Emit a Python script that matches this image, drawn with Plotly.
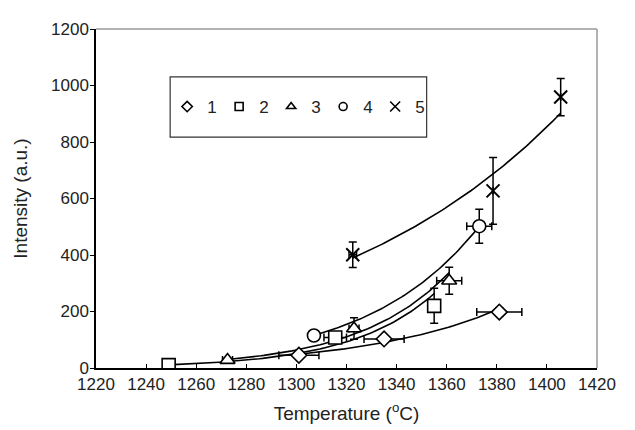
import numpy as np
import plotly.graph_objects as go

# ---- data ----
series_names = ["1", "2", "3", "4", "5"]
s1_x = [1301, 1335, 1381]
s1_y = [45, 103, 198]
s1_xerr = [8, 8, 9]
s1_yerr = [6, 8, 15]

s2_x = [1249, 1315.5, 1355]
s2_y = [10, 108, 220]
s2_xerr = [0, 4.5, 2]
s2_yerr = [0, 15, 62]

s3_x = [1272.5, 1323, 1361]
s3_y = [28, 140, 309]
s3_xerr = [2, 2, 5]
s3_yerr = [6, 38, 48]

s4_x = [1307, 1373]
s4_y = [115, 502]
s4_xerr = [2, 5]
s4_yerr = [8, 60]

s5_x = [1322.5, 1378.5, 1405.5]
s5_y = [401, 627, 959]
s5_xerr = [1.5, 0, 0]
s5_yerr = [45, 118, 66]

x_ticks = [1220, 1240, 1260, 1280, 1300, 1320, 1340, 1360, 1380, 1400, 1420]
y_ticks = [0, 200, 400, 600, 800, 1000, 1200]

series = [
    (s1_x, s1_y, s1_xerr, s1_yerr, "diamond", 12),
    (s2_x, s2_y, s2_xerr, s2_yerr, "square", 13),
    (s3_x, s3_y, s3_xerr, s3_yerr, "triangle-up", 13),
    (s4_x, s4_y, s4_xerr, s4_yerr, "circle", 13),
    (s5_x, s5_y, s5_xerr, s5_yerr, "x-thin", 13),
]

FONT = "Liberation Sans, Arial, Helvetica, sans-serif"
fig = go.Figure()

# exponential trendlines (least squares on log y) over each series' x range
for (xs, ys, _, _, _, _) in series:
    k, b = np.polyfit(np.array(xs, float), np.log(np.array(ys, float)), 1)
    xx = np.linspace(min(xs), max(xs), 80)
    fig.add_trace(go.Scatter(x=xx, y=np.exp(k * xx + b), mode="lines",
                             line=dict(color="black", width=1.6),
                             showlegend=False, hoverinfo="skip"))

# data points with error bars
for (xs, ys, xe, ye, sym, sz) in series:
    if sym == "x-thin":
        mk = dict(symbol=sym, size=sz, line=dict(color="black", width=2), color="black")
    else:
        mk = dict(symbol=sym, size=sz, color="white", line=dict(color="black", width=1.6))
    fig.add_trace(go.Scatter(
        x=xs, y=ys, mode="markers", marker=mk, showlegend=False,
        error_x=dict(type="data", array=xe, color="black", thickness=1.5, width=4),
        error_y=dict(type="data", array=ye, color="black", thickness=1.5, width=4),
    ))

# legend entries
for name, (_, _, _, _, sym, _) in zip(series_names, series):
    if sym == "x-thin":
        mk = dict(symbol=sym, size=10, line=dict(color="black", width=1.6), color="black")
    else:
        mk = dict(symbol=sym, size=8, color="white", line=dict(color="black", width=1.6))
    fig.add_trace(go.Scatter(x=[None], y=[None], mode="markers", marker=mk, name=name))

fig.update_layout(
    width=635, height=430,
    margin=dict(l=83, r=46, t=12, b=70),
    paper_bgcolor="white", plot_bgcolor="white",
    font=dict(family=FONT, size=16, color="#222"),
    showlegend=True,
    legend=dict(orientation="h", x=0.142, xanchor="left", y=0.770, yanchor="middle",
                bgcolor="rgba(0,0,0,0)", borderwidth=0, font=dict(size=17),
                entrywidth=7, itemwidth=30, tracegroupgap=0),
    shapes=[
        dict(type="rect", xref="paper", yref="paper", x0=0.148, x1=0.660, y0=0.681, y1=0.859,
             line=dict(color="#333", width=1.2)),
        dict(type="line", xref="paper", yref="paper", x0=0, x1=1, y0=1, y1=1,
             line=dict(color="#9a9a9a", width=1.5)),
        dict(type="line", xref="paper", yref="paper", x0=1, x1=1, y0=0, y1=1,
             line=dict(color="#9a9a9a", width=1.5)),
    ],
)
fig.update_xaxes(range=[1220, 1420], tickvals=x_ticks, ticks="inside", ticklen=4,
                 tickcolor="black", showline=True, linecolor="black", linewidth=1.5,
                 showgrid=False, zeroline=False,
                 title=dict(text="Temperature (<sup>o</sup>C)", standoff=14),
                 tickfont=dict(size=17))
fig.update_yaxes(range=[0, 1200], tickvals=y_ticks, ticks="outside", ticklen=4,
                 tickcolor="black", showline=True, linecolor="black", linewidth=1.5,
                 showgrid=False, zeroline=False, ticklabelstandoff=-2,
                 title=dict(text="Intensity (a.u.)", standoff=18),
                 tickfont=dict(size=17))

fig.write_html("out.html")
